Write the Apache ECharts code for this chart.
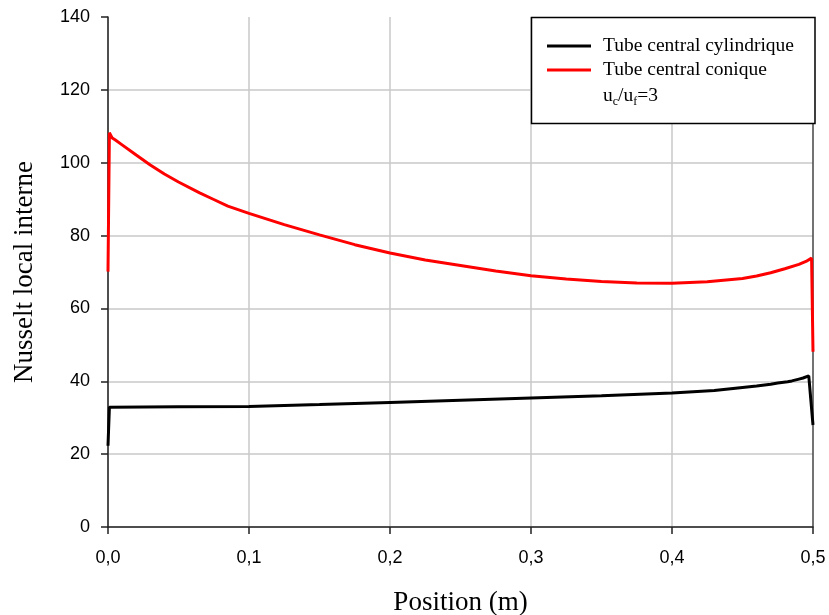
<!DOCTYPE html>
<html>
<head>
<meta charset="utf-8">
<script src="https://cdn.jsdelivr.net/npm/echarts@6/dist/echarts.min.js"></script>
<style>
html,body{margin:0;padding:0;background:#fff;}
#chart{width:829px;height:615px;}
</style>
</head>
<body>
<div id="chart"></div>
<script>
// Data
const cylX = [0, 0.001, 0.05, 0.1, 0.15, 0.2, 0.25, 0.3, 0.35, 0.4, 0.43, 0.45, 0.46, 0.47, 0.475, 0.482, 0.485, 0.49, 0.493, 0.497, 0.5];
const cylY = [22.3, 32.9, 33.0, 33.1, 33.6, 34.2, 34.8, 35.4, 36.0, 36.8, 37.5, 38.3, 38.7, 39.2, 39.5, 39.9, 40.1, 40.6, 40.9, 41.5, 28.0];

const conX = [0, 0.001, 0.002, 0.003, 0.005, 0.01, 0.02, 0.03, 0.04, 0.05, 0.065, 0.075, 0.085, 0.1, 0.125, 0.15, 0.175, 0.2, 0.225, 0.25, 0.275, 0.3, 0.325, 0.35, 0.375, 0.4, 0.425, 0.45, 0.46, 0.47, 0.48, 0.49, 0.495, 0.499, 0.5];
const conY = [70.1, 108.2, 107.5, 106.8, 106.3, 104.9, 102.1, 99.4, 96.9, 94.7, 91.7, 89.9, 88.1, 86.1, 83.0, 80.2, 77.5, 75.2, 73.3, 71.8, 70.3, 69.0, 68.1, 67.4, 67.0, 66.9, 67.3, 68.2, 68.9, 69.8, 70.9, 72.1, 72.9, 73.8, 48.1];

const seriesNames = ['Tube central cylindrique', 'Tube central conique'];
const legendExtra = '{n|u}{s|c}{n|/u}{s|f}{n|=3}';
const xTitle = 'Position (m)';
const yTitle = 'Nusselt local interne';

const toPairs = (xs, ys) => xs.map((x, i) => [x, ys[i]]);

const chart = echarts.init(document.getElementById('chart'), null, {renderer: 'canvas'});
const serif = '"Liberation Serif", "Times New Roman", serif';
const sans = '"Liberation Sans", Arial, sans-serif';

chart.setOption({
  animation: false,
  backgroundColor: '#fff',
  grid: {left: 108, right: 16, top: 17, bottom: 88, containLabel: false, outerBoundsMode: 'none'},
  xAxis: {
    type: 'value', min: 0, max: 0.5, interval: 0.1,
    name: xTitle, nameLocation: 'middle', nameGap: 62,
    nameTextStyle: {fontFamily: serif, fontSize: 27, color: '#000'},
    axisLine: {lineStyle: {color: '#222', width: 1.5}},
    axisTick: {show: true, inside: false, length: 7, lineStyle: {color: '#222', width: 1.5}},
    axisLabel: {fontFamily: sans, fontSize: 18, color: '#000', margin: 22,
      formatter: v => v.toFixed(1).replace('.', ',')},
    splitLine: {show: true, lineStyle: {color: ['#c8c8c8','#c8c8c8','#c8c8c8','#c8c8c8','#c8c8c8','#444'], width: 1.5}}
  },
  yAxis: {
    type: 'value', min: 0, max: 140, interval: 20,
    name: yTitle, nameLocation: 'middle', nameGap: 70, nameRotate: 90,
    nameTextStyle: {fontFamily: serif, fontSize: 27, color: '#000'},
    axisLine: {show: true, lineStyle: {color: '#222', width: 1.5}},
    axisTick: {show: true, inside: false, length: 7, lineStyle: {color: '#222', width: 1.5}},
    axisLabel: {fontFamily: sans, fontSize: 18, color: '#000', margin: 18},
    splitLine: {show: true, showMaxLine: false, lineStyle: {color: '#c8c8c8', width: 1.5}}
  },
  legend: {
    show: true, orient: 'vertical', left: 547, top: 35, padding: 0,
    itemWidth: 44, itemHeight: 3, itemGap: 2, icon: 'rect', z: 8,
    textStyle: {fontFamily: serif, fontSize: 19.5, color: '#000', lineHeight: 22, padding: [0, 0, 0, 7]},
    data: seriesNames
  },
  graphic: [
    {type: 'rect', z: 5, shape: {x: 531.5, y: 17.5, width: 283.5, height: 106},
     style: {fill: '#fff', stroke: '#000', lineWidth: 1.5}},
    {type: 'text', z: 9, x: 603, y: 96,
     style: {text: legendExtra, fill: '#000', verticalAlign: 'middle',
       rich: {
         n: {fontFamily: serif, fontSize: 19.5, lineHeight: 24, verticalAlign: 'middle'},
         s: {fontFamily: serif, fontSize: 12, lineHeight: 12, verticalAlign: 'bottom'}
       }}}
  ],
  series: [
    {name: seriesNames[0], type: 'line', data: toPairs(cylX, cylY), symbol: 'none', smooth: false,
     lineStyle: {color: '#000', width: 3}, itemStyle: {color: '#000'}, z: 3},
    {name: seriesNames[1], type: 'line', data: toPairs(conX, conY), symbol: 'none', smooth: false,
     lineStyle: {color: '#ff0000', width: 3}, itemStyle: {color: '#ff0000'}, z: 3}
  ]
});
</script>
</body>
</html>
